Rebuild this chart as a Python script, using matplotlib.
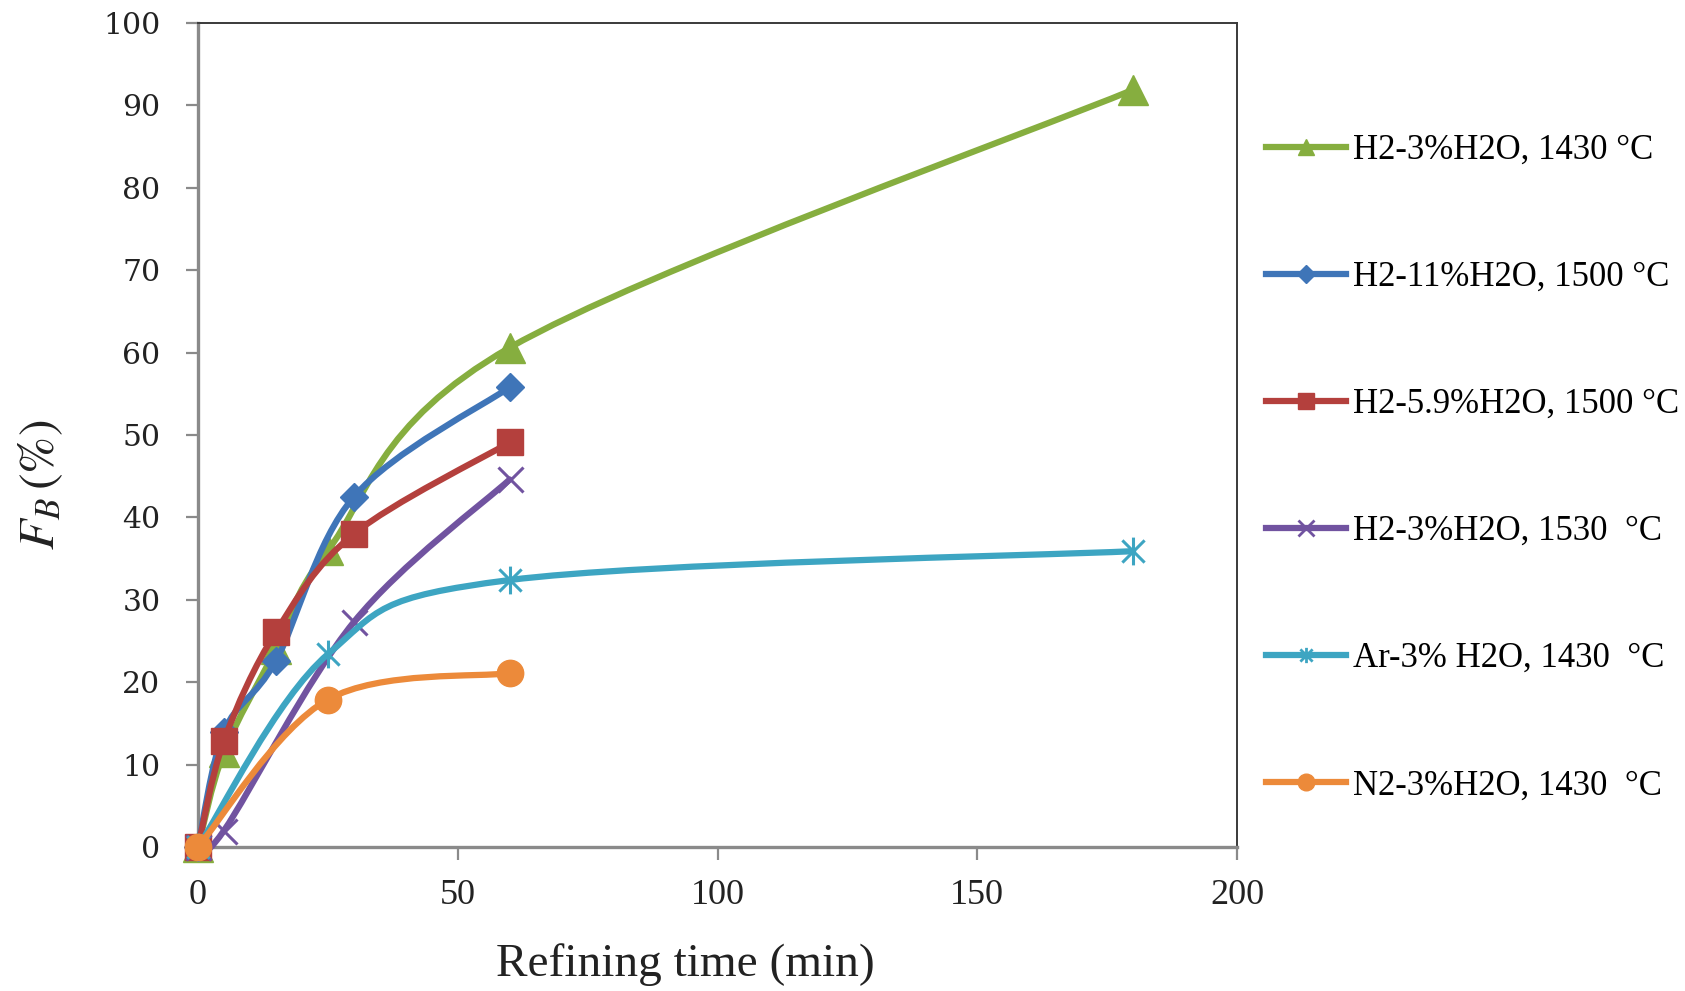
import numpy as np
import matplotlib
matplotlib.use("Agg")
import matplotlib.pyplot as plt
from matplotlib.path import Path
from matplotlib.patches import PathPatch
from matplotlib.lines import Line2D

plt.rcParams["mathtext.fontset"] = "stix"

# --------------------------
# DATA
# --------------------------
labels = [
    "H2-3%H2O, 1430 °C",
    "H2-11%H2O, 1500 °C",
    "H2-5.9%H2O, 1500 °C",
    "H2-3%H2O, 1530  °C",
    "Ar-3% H2O, 1430  °C",
    "N2-3%H2O, 1430  °C",
]

t_green = [0, 5, 15, 25, 60, 180]
fb_green = [0, 11.5, 24, 36, 60.6, 91.9]

t_blue = [0, 5, 15, 30, 60]
fb_blue = [0, 14, 22.6, 42.5, 55.8]

t_red = [0, 5, 15, 30, 60]
fb_red = [0, 12.9, 26.1, 38, 49.1]

t_purple = [0, 5, 30, 60]
fb_purple = [0, 2, 27.3, 44.6]

t_cyan = [0, 25, 60, 180]
fb_cyan = [0, 23.4, 32.4, 35.9]

t_orange = [0, 25, 60]
fb_orange = [0, 17.9, 21.1]

# star marker like the office one: an x with a vertical stroke
star = Path([(-0.8, -0.8), (0.8, 0.8), (-0.8, 0.8), (0.8, -0.8), (0, -1), (0, 1)],
            [Path.MOVETO, Path.LINETO, Path.MOVETO, Path.LINETO, Path.MOVETO, Path.LINETO])

series = [
    (t_green, fb_green, "#86AE3F", "^", 21, 12),
    (t_blue, fb_blue, "#3F75B8", "D", 14, 9),
    (t_red, fb_red, "#B4403D", "s", 19, 12),
    (t_purple, fb_purple, "#7153A0", "x", 18, 11),
    (t_cyan, fb_cyan, "#3DA5C2", star, 20, 11),
    (t_orange, fb_orange, "#EC8A3A", "o", 19, 12),
]


# --------------------------
# smoothed line (catmull-rom style bezier, like the spreadsheet "smooth line")
# --------------------------
def smooth_path(xs, ys):
    p = np.column_stack([xs, ys]).astype(float)
    n = len(p)
    verts = [p[0]]
    codes = [Path.MOVETO]
    for i in range(n - 1):
        p_prev = p[max(i - 1, 0)]
        p_next2 = p[min(i + 2, n - 1)]
        c1 = p[i] + (p[i + 1] - p_prev) / 6.0
        c2 = p[i + 1] - (p_next2 - p[i]) / 6.0
        verts += [c1, c2, p[i + 1]]
        codes += [Path.CURVE4] * 3
    return Path(verts, codes)


fig = plt.figure(figsize=(16.85, 9.91), dpi=100)
ax = fig.add_axes([198 / 1685, 1 - 847 / 991, (1237 - 198) / 1685, (847 - 23) / 991])

handles = []
for i, (xs, ys, col, mk, ms, lms) in enumerate(series):
    z = 3 + i
    ax.add_patch(PathPatch(smooth_path(xs, ys), facecolor="none", edgecolor=col,
                           lw=4.5, capstyle="round", joinstyle="round",
                           transform=ax.transData, zorder=z, clip_on=False))
    thin = mk in ("x",) or mk is star
    ax.plot(xs, ys, linestyle="none", marker=mk, markersize=ms, color=col,
            markeredgecolor=col, markeredgewidth=2.2 if thin else 1.0,
            zorder=z + 0.5, clip_on=False)
    handles.append(Line2D([], [], color=col, lw=4.5, marker=mk, markersize=lms,
                          markeredgecolor=col, markeredgewidth=2.0 if thin else 1.0))

ax.set_xlim(0, 200)
ax.set_ylim(0, 100)
ax.set_xticks([0, 50, 100, 150, 200])
ax.set_yticks(range(0, 101, 10))

for side in ["left", "bottom"]:
    ax.spines[side].set_color("#8a8a8a")
    ax.spines[side].set_linewidth(2.4)
for side in ["top", "right"]:
    ax.spines[side].set_color("#3a3a3a")
    ax.spines[side].set_linewidth(1.4)

ax.tick_params(axis="both", direction="out", color="#8a8a8a", width=1.6, length=9)
ax.tick_params(axis="y", pad=18, labelsize=21.5, labelcolor="#222222")
ax.tick_params(axis="x", pad=14, labelsize=26, labelcolor="#222222")
for lab in ax.get_yticklabels():
    lab.set_family("DejaVu Serif")
for lab in ax.get_xticklabels():
    lab.set_family("Liberation Serif")

fig.text(685 / 1685, 1 - 965 / 991, "Refining time (min)", ha="center", va="center",
         fontsize=34, family="Liberation Serif", color="#222222")
fig.text(41 / 1685, 1 - 485 / 991, r"$F_B\,\mathit{(\%)}$", ha="center", va="center",
         rotation=90, fontsize=36, color="#222222")

fig.legend(handles, labels, loc="center left", bbox_to_anchor=(1266 / 1685, 1 - 468 / 991),
           frameon=False, borderpad=0, borderaxespad=0, labelspacing=2.71,
           handletextpad=0.2, handlelength=2.3,
           prop={"family": "Liberation Serif", "size": 25})

fig.savefig("out.png", dpi=100, facecolor="white")
